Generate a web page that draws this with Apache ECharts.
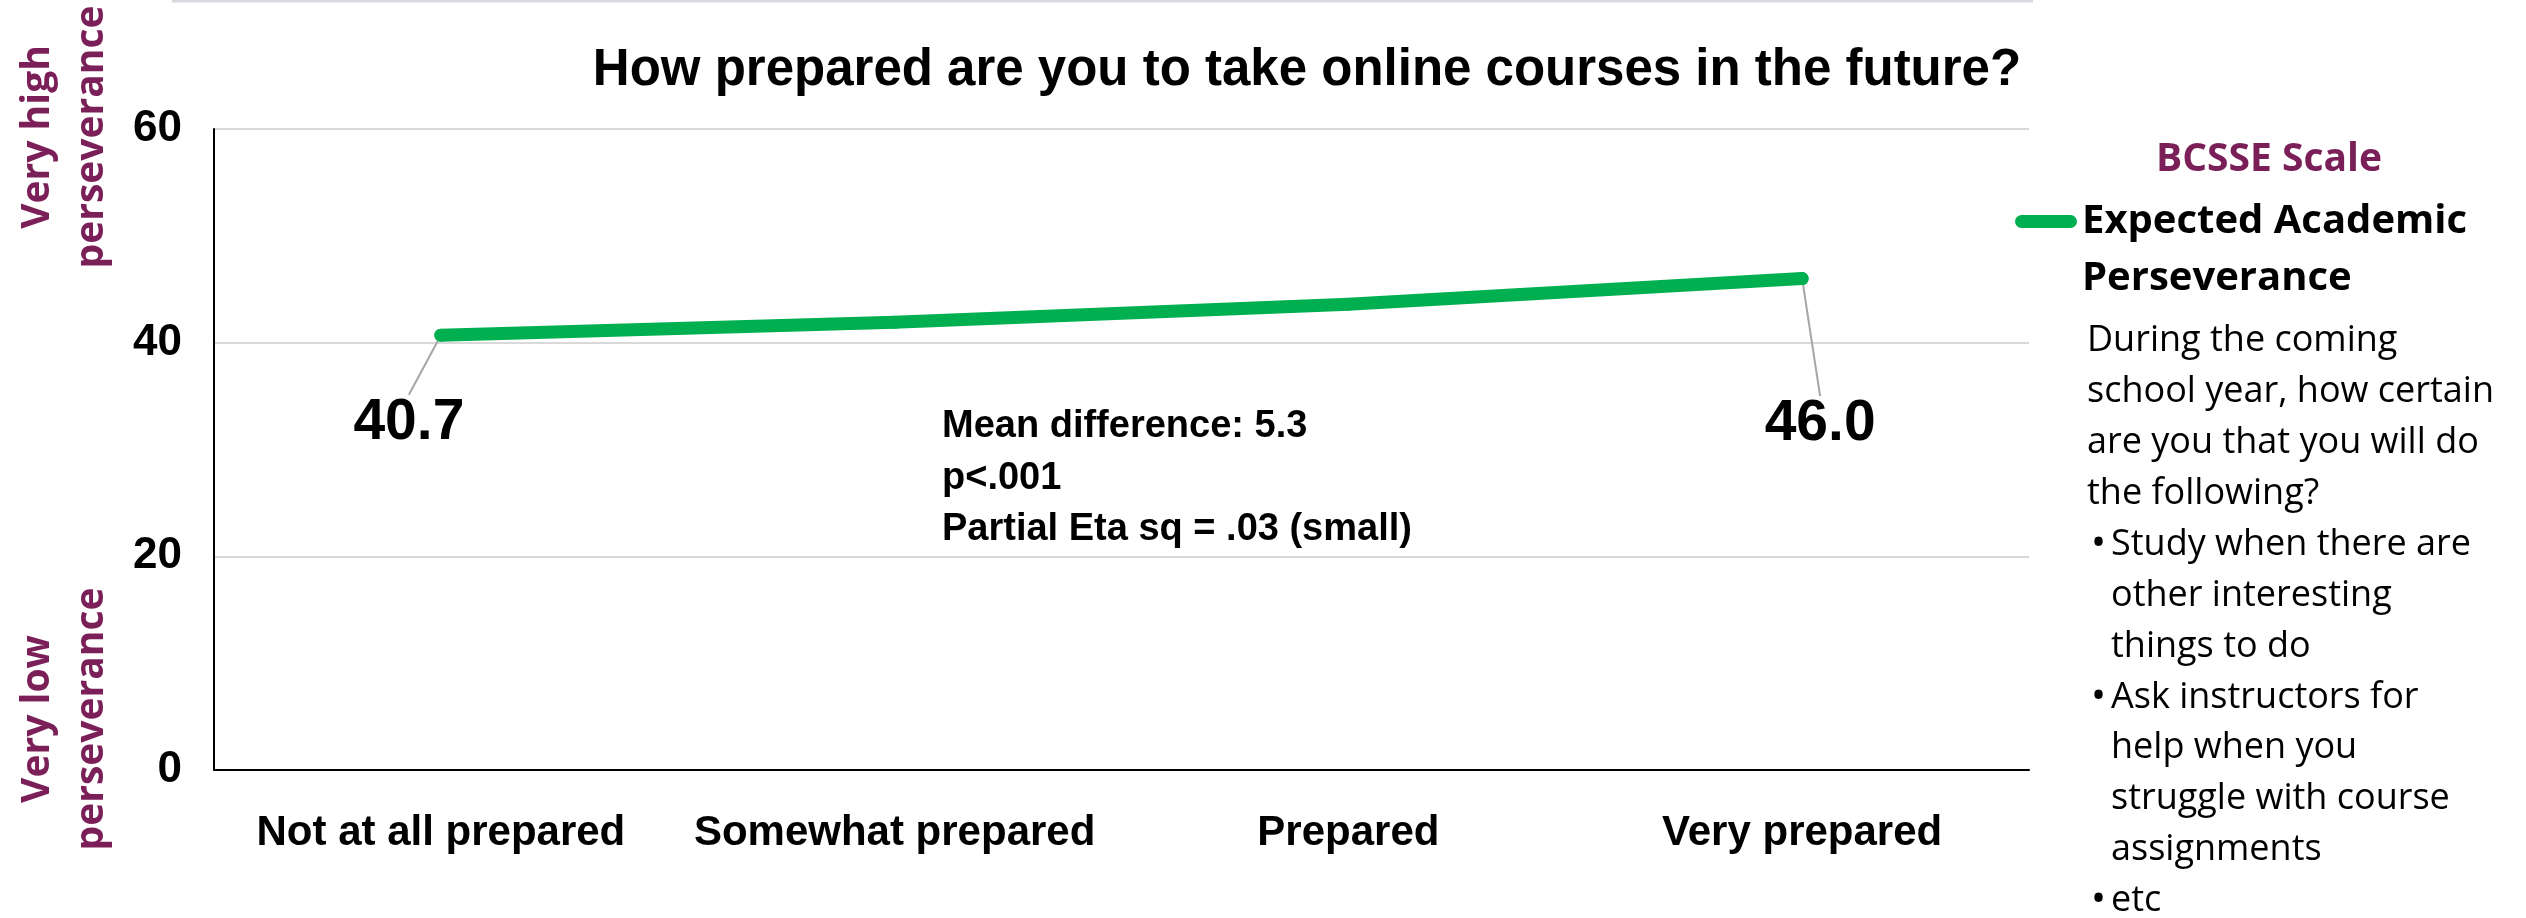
<!DOCTYPE html>
<html>
<head>
<meta charset="utf-8">
<script src="https://cdn.jsdelivr.net/npm/echarts@6/dist/echarts.min.js"></script>
<style>
html,body{margin:0;padding:0;background:#fff;}
#chart{width:2526px;height:918px;}
</style>
</head>
<body>
<div id="chart"></div>
<script>
// ---- data ----
const chartTitle = 'How prepared are you to take online courses in the future?';
const categories = ['Not at all prepared', 'Somewhat prepared', 'Prepared', 'Very prepared'];
const seriesName = 'Expected Academic Perseverance';
const values = [40.7, 41.9, 43.6, 46.0];
const labeledPoints = [0, 3];
const yMin = 0, yMax = 60, yInterval = 20;
const yTitleHigh = 'Very high\nperseverance';
const yTitleLow = 'Very low\nperseverance';
const statsLines = ['Mean difference: 5.3', 'p<.001', 'Partial Eta sq = .03 (small)'];
const scaleHeading = 'BCSSE Scale';
const legendLines = ['Expected Academic', 'Perseverance'];
const descLines = ['During the coming', 'school year, how certain', 'are you that you will do', 'the following?'];
const bulletItems = [
  ['Study when there are', 'other interesting', 'things to do'],
  ['Ask instructors for', 'help when you', 'struggle with course', 'assignments'],
  ['etc']
];

// ---- styles ----
const GREEN = '#00b050';
const PURPLE = '#7a1f58';
const BOLD_FONT = 'Liberation Sans';
const PANEL_FONT = 'Open Sans';

const chart = echarts.init(document.getElementById('chart'), null, {renderer: 'canvas'});

const graphics = [];
graphics.push({
  type: 'line', shape: {x1: 172, y1: 1, x2: 2033, y2: 1},
  style: {stroke: '#d6d9e0', lineWidth: 3}, silent: true
});
graphics.push({
  type: 'text', x: 65, y: 137, rotation: Math.PI / 2,
  style: {text: yTitleHigh, align: 'center', verticalAlign: 'middle', fill: PURPLE,
    font: 'bold 39px "' + PANEL_FONT + '"', lineHeight: 54}
});
graphics.push({
  type: 'text', x: 65, y: 719, rotation: Math.PI / 2,
  style: {text: yTitleLow, align: 'center', verticalAlign: 'middle', fill: PURPLE,
    font: 'bold 39px "' + PANEL_FONT + '"', lineHeight: 54}
});
graphics.push({
  type: 'text', x: 942, y: 427 - 25.75,
  style: {text: statsLines.join('\n'), align: 'left', verticalAlign: 'top', fill: '#000',
    font: 'bold 38px "' + BOLD_FONT + '"', lineHeight: 51.5}
});
graphics.push({
  type: 'text', x: 2269, y: 160,
  style: {text: scaleHeading, align: 'center', verticalAlign: 'middle', fill: PURPLE,
    font: 'bold 39px "' + PANEL_FONT + '"'}
});
const pitch = 50.9;
graphics.push({
  type: 'text', x: 2087, y: 341 - pitch / 2,
  style: {text: descLines.join('\n'), align: 'left', verticalAlign: 'top', fill: '#000',
    font: '36px "' + PANEL_FONT + '"', lineHeight: pitch}
});
let lineIdx = descLines.length;
bulletItems.forEach(item => {
  const yTop = 341 + lineIdx * pitch - pitch / 2;
  graphics.push({
    type: 'text', x: 2091, y: yTop,
    style: {text: '•', align: 'left', verticalAlign: 'top', fill: '#000',
      font: '40px "' + PANEL_FONT + '"', lineHeight: pitch}
  });
  graphics.push({
    type: 'text', x: 2111, y: yTop,
    style: {text: item.join('\n'), align: 'left', verticalAlign: 'top', fill: '#000',
      font: '36px "' + PANEL_FONT + '"', lineHeight: pitch}
  });
  lineIdx += item.length;
});

const option = {
  backgroundColor: '#fff',
  animation: false,
  title: {
    text: chartTitle,
    left: 1307, top: 43, textAlign: 'center', padding: 0,
    textStyle: {fontFamily: BOLD_FONT, fontWeight: 'bold', fontSize: 51, lineHeight: 56, color: '#000'}
  },
  legend: {
    show: true, selectedMode: false,
    left: 2015, top: 136, orient: 'vertical', padding: 0,
    itemWidth: 62, itemHeight: 13,
    icon: 'path://M6.5,0 L55.5,0 A6.5,6.5 0 0 1 55.5,13 L6.5,13 A6.5,6.5 0 0 1 6.5,0 Z',
    formatter: () => '\n' + legendLines.join('\n'),
    textStyle: {fontFamily: PANEL_FONT, fontWeight: 'bold', fontSize: 40, lineHeight: 57, color: '#000'},
    data: [seriesName]
  },
  grid: {left: 214, right: 497, top: 129, bottom: 148, containLabel: false},
  xAxis: {
    type: 'category', data: categories, boundaryGap: true,
    axisLine: {show: true, lineStyle: {color: '#000', width: 2}},
    axisTick: {show: false},
    axisLabel: {margin: 42, fontFamily: BOLD_FONT, fontWeight: 'bold', fontSize: 42,
      lineHeight: 42, color: '#000', interval: 0}
  },
  yAxis: {
    type: 'value', min: yMin, max: yMax, interval: yInterval,
    axisLine: {show: true, lineStyle: {color: '#000', width: 2}},
    axisTick: {show: false},
    splitLine: {show: true, lineStyle: {color: '#d9d9d9', width: 2}},
    axisLabel: {margin: 32, fontFamily: BOLD_FONT, fontWeight: 'bold', fontSize: 44, color: '#000'}
  },
  series: [{
    name: seriesName,
    type: 'line',
    data: values.map((v, i) => ({value: v, label: {show: labeledPoints.includes(i)}})),
    symbol: 'circle', symbolSize: 13, showSymbol: true,
    itemStyle: {color: GREEN},
    lineStyle: {color: GREEN, width: 13, cap: 'round', join: 'round'},
    label: {
      position: 'inside',
      formatter: p => Number(p.value).toFixed(1),
      fontFamily: BOLD_FONT, fontWeight: 'bold', fontSize: 57, color: '#000'
    },
    labelLine: {show: true, lineStyle: {color: '#a6a6a6', width: 2}},
    labelLayout: function (params) {
      if (params.dataIndex === 0) return {dx: -32, dy: 88};
      if (params.dataIndex === values.length - 1) return {dx: 18, dy: 146};
      return {};
    },
    z: 3
  }],
  graphic: graphics
};
chart.setOption(option);
</script>
</body>
</html>
